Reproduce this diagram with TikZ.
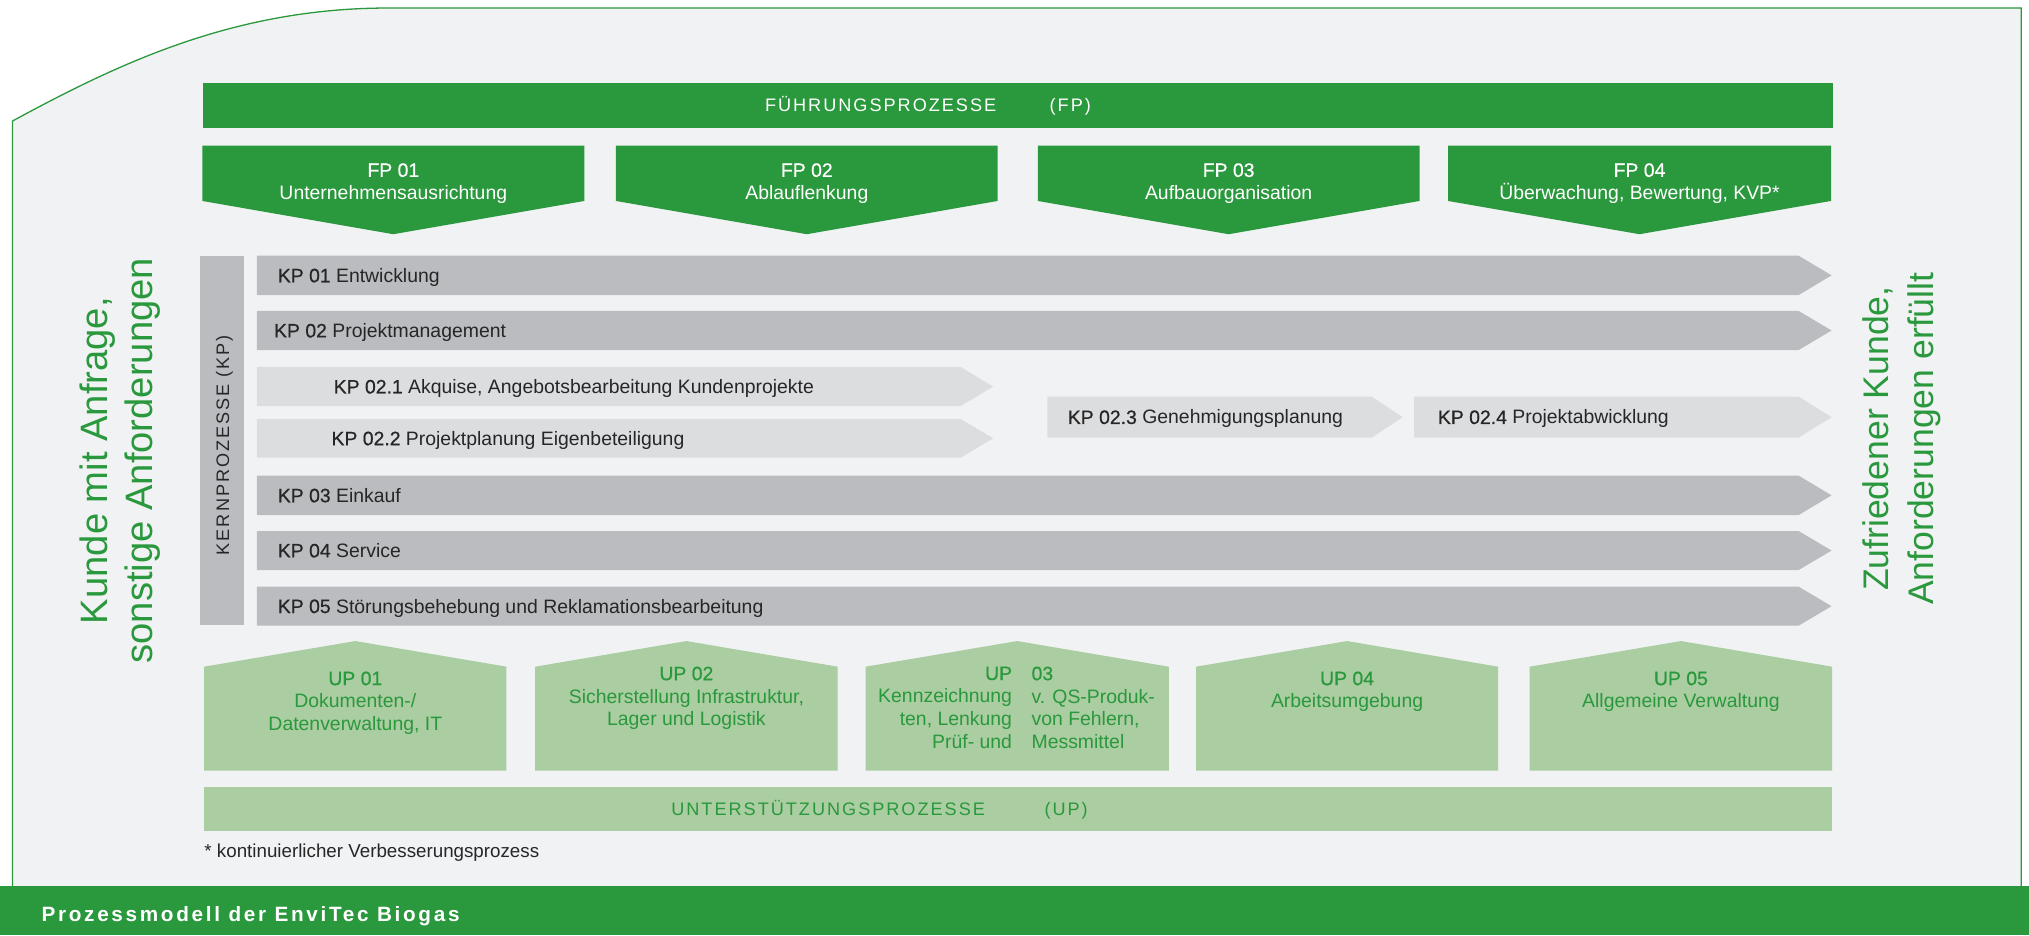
\documentclass[tikz,border=0pt]{standalone}
\usepackage{fontspec}
\setmainfont{Liberation Sans}
\newfontfamily\medfont[FakeBold=0.6]{Liberation Sans}
\newfontfamily\spacedfont[LetterSpace=11]{Liberation Sans}
\newfontfamily\capfont[LetterSpace=13]{Liberation Sans}
\definecolor{dgreen}{HTML}{2A983C}
\definecolor{lgreen}{HTML}{AACDA1}
\definecolor{kgray}{HTML}{BBBCBF}
\definecolor{klight}{HTML}{DCDDDF}
\definecolor{panelc}{HTML}{F1F2F4}
\definecolor{ktext}{HTML}{262626}
\newcommand{\fpchev}[2]{\fill[dgreen] (#1,112.6) -- (#2,112.6) -- (#2,155.3) -- ({(#1+#2)/2},181) -- (#1,155.3) -- cycle;}
\newcommand{\kparrow}[6]{\fill[#1] (#2,#3) -- (#4,#3) -- (#5,{(#3+#6)/2}) -- (#4,#6) -- (#2,#6) -- cycle;}
\newcommand{\uphouse}[2]{\fill[lgreen] (#1,515.2) -- ({(#1+#2)/2},495.4) -- (#2,515.2) -- (#2,595.6) -- (#1,595.6) -- cycle;}
\begin{document}
\begin{tikzpicture}[x=1pt,y=-1pt,
  lbl/.style={anchor=west, inner sep=0pt, text height=10.7pt, text depth=0pt, text=ktext, font=\fontsize{15}{18}\selectfont},
  hdr/.style={anchor=west, inner sep=0pt, text height=10pt, text depth=0pt, font=\spacedfont\fontsize{14}{17}\selectfont},
  fptxt/.style={anchor=north, inner sep=0pt, align=center, text=white, font=\fontsize{15}{17.5}\selectfont},
  uptxt/.style={anchor=north, inner sep=0pt, text=dgreen, font=\fontsize{15}{17.6}\selectfont},
  side/.style={rotate=90, anchor=north, inner sep=0pt, align=center, text=dgreen},
  bar/.style={inner sep=0pt, anchor=north west}]
\useasboundingbox (0,0) rectangle (1568,722.6);
\fill[white] (0,0) rectangle (1568,722.6);
% panel
\fill[panelc] (9.7,684.5) -- (9.7,93.5) .. controls (90,50) and (180,6.2) .. (300,6.2) -- (1562,6.2) -- (1562,684.5) -- cycle;
\draw[dgreen, line width=1pt] (9.7,684.5) -- (9.7,93.5) .. controls (90,50) and (180,6.2) .. (300,6.2) -- (1562,6.2) -- (1562,684.5);
% caption bar
\fill[dgreen] (0,684.5) rectangle (1568,722.6);
\node[anchor=west, inner sep=0pt, text height=11.5pt, text depth=0pt, text=white, font=\capfont\bfseries\fontsize{16}{19}\selectfont] (caption) at (32,706) {Prozessmodell der EnviTec Biogas};
% FP header
\node[bar, fill=dgreen, minimum width=1260.3pt, minimum height=34.8pt] (fpbar) at (156.3,63.9) {};
\node[hdr, text=white] (fptitle) at (591,81.3) {FÜHRUNGSPROZESSE};
\node[hdr, text=white] (fpabbr) at (811,81.3) {(FP)};
% FP chevrons
\fpchev{156.3}{451.6}
\fpchev{476}{771}
\fpchev{802}{1097}
\fpchev{1119}{1415}
\node[fptxt] (fp1) at (303.95,126) {{\medfont FP 01}\\Unternehmensausrichtung};
\node[fptxt] (fp2) at (623.5,126) {{\medfont FP 02}\\Ablauflenkung};
\node[fptxt] (fp3) at (949.5,126) {{\medfont FP 03}\\Aufbauorganisation};
\node[fptxt] (fp4) at (1267,126) {{\medfont FP 04}\\Überwachung, Bewertung, KVP*};
% KERN bar
\node[bar, fill=kgray, minimum width=33.4pt, minimum height=284.9pt] (kbar) at (154.6,197.6) {};
\node[rotate=90, inner sep=0pt, text height=10pt, text depth=0pt, text=ktext, font=\spacedfont\fontsize{14}{17}\selectfont] (ktitle) at (172,344) {KERNPROZESSE (KP)};
% KP arrows
\kparrow{kgray}{198.6}{197.6}{1390}{1415.4}{228}
\kparrow{kgray}{198.6}{240.3}{1390}{1415.4}{270.5}
\kparrow{klight}{198.6}{283.6}{742.4}{767.5}{313.8}
\kparrow{klight}{198.6}{323.8}{742.4}{767.5}{353.7}
\kparrow{klight}{809.3}{306.5}{1060}{1084}{338.2}
\kparrow{klight}{1092.8}{306.5}{1390}{1415.4}{338.2}
\kparrow{kgray}{198.6}{367.6}{1390}{1415.4}{398}
\kparrow{kgray}{198.6}{410.4}{1390}{1415.4}{440.5}
\kparrow{kgray}{198.6}{453.4}{1390}{1415.4}{483.5}
\node[lbl] (kp1) at (214.5,212.8) {{\medfont KP 01} Entwicklung};
\node[lbl] (kp2) at (211.6,255.4) {{\medfont KP 02} Projektmanagement};
\node[lbl] (kp21) at (257.7,298.7) {{\medfont KP 02.1} Akquise, Angebotsbearbeitung Kundenprojekte};
\node[lbl] (kp22) at (256,338.7) {{\medfont KP 02.2} Projektplanung Eigenbeteiligung};
\node[lbl] (kp23) at (825,322.3) {{\medfont KP 02.3} Genehmigungsplanung};
\node[lbl] (kp24) at (1111,322.3) {{\medfont KP 02.4} Projektabwicklung};
\node[lbl] (kp3) at (214.5,382.8) {{\medfont KP 03} Einkauf};
\node[lbl] (kp4) at (214.5,425.4) {{\medfont KP 04} Service};
\node[lbl] (kp5) at (214.5,468.4) {{\medfont KP 05} Störungsbehebung und Reklamationsbearbeitung};
% side texts
\node[side, font=\fontsize{29.5}{34.5}\selectfont] (kunde) at (61.4,356) {Kunde mit Anfrage,\\sonstige Anforderungen};
\node[side, font=\fontsize{27.5}{34.8}\selectfont] (zufrieden) at (1439.5,339) {Zufriedener Kunde,\\Anforderungen erfüllt};
% UP houses
\uphouse{157.8}{391.4}
\uphouse{413.6}{647.3}
\uphouse{669}{903.2}
\uphouse{924.4}{1157.7}
\uphouse{1182.1}{1415.9}
\node[uptxt, align=center] (up1) at (274.6,518.8) {{\medfont UP 01}\\Dokumenten-/\\Datenverwaltung, IT};
\node[uptxt, align=center] (up2) at (530.45,515) {{\medfont UP 02}\\Sicherstellung Infrastruktur,\\Lager und Logistik};
\node[uptxt, align=right, anchor=north east] (up3a) at (782.3,515) {{\medfont UP}\\Kennzeichnung\\ten, Lenkung\\Prüf- und};
\node[uptxt, align=left, anchor=north west] (up3b) at (797,515) {{\medfont 03}\\v. QS-Produk-\\von Fehlern,\\Messmittel};
\node[uptxt, align=center] (up4) at (1041,518.8) {{\medfont UP 04}\\Arbeitsumgebung};
\node[uptxt, align=center] (up5) at (1299,518.8) {{\medfont UP 05}\\Allgemeine Verwaltung};
% UP bar
\node[bar, fill=lgreen, minimum width=1258.1pt, minimum height=33.8pt] (upbar) at (157.8,608.2) {};
\node[hdr, text=dgreen] (uptitle) at (518.6,625.5) {UNTERSTÜTZUNGSPROZESSE};
\node[hdr, text=dgreen] (upabbr) at (807,625.5) {(UP)};
% footnote
\node[anchor=west, inner sep=0pt, text height=10.4pt, text depth=0pt, text=ktext, font=\fontsize{14.5}{17}\selectfont] (note) at (157.8,657.4) {* kontinuierlicher Verbesserungsprozess};
\end{tikzpicture}
\end{document}
